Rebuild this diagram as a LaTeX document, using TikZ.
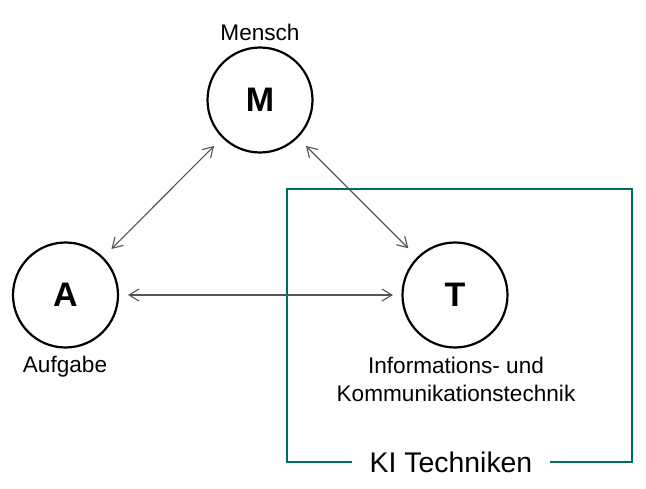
\documentclass[tikz,border=0pt]{standalone}
\usepackage{fontspec}
\setmainfont{Liberation Sans}
\usetikzlibrary{arrows.meta}
\definecolor{kigreen}{RGB}{0,110,92}
\definecolor{arrowgray}{RGB}{85,85,85}
\tikzset{
  entity/.style={circle, draw=black, line width=2.2pt, minimum size=105pt, inner sep=0pt, outer sep=0pt,
    font=\fontsize{34}{40}\selectfont\bfseries},
  lbl/.style={font=\fontsize{22.6}{28}\selectfont, inner sep=0pt, anchor=base},
  rel/.style={draw=arrowgray, line width=1.1pt, {Straight Barb[length=10pt,width=12pt]}-{Straight Barb[length=10pt,width=12pt]}},
  frame/.style={draw=kigreen, line width=2pt},
}
\begin{document}
\begin{tikzpicture}[x=1pt,y=1pt]
\useasboundingbox (0,0) rectangle (646,488);
% KI frame
\draw[frame] (287,299) rectangle (632,26);
\node[fill=white, inner xsep=17.5pt, inner ysep=4pt, font=\fontsize{28.4}{34}\selectfont] (ki) at (451,26) {KI Techniken};
% entities
\node[entity] (M) at (260,388) {M};
\node[entity] (A) at (65.5,193) {A};
\node[entity] (T) at (455,193) {T};
% labels
\node[lbl] (lm) at (260,447) {Mensch};
\node[lbl] (la) at (65,115.3) {Aufgabe};
\node[lbl] (lt1) at (456,114) {Informations- und};
\node[lbl] (lt2) at (456,86) {Kommunikationstechnik};
% relations
\draw[rel, shorten <=12.5pt, shorten >=12.5pt] (A) -- (M);
\draw[rel, shorten <=12.5pt, shorten >=13.5pt] (M) -- (T);
\draw[rel, shorten <=10pt, shorten >=9.5pt] (A) -- (T);
\end{tikzpicture}
\end{document}
